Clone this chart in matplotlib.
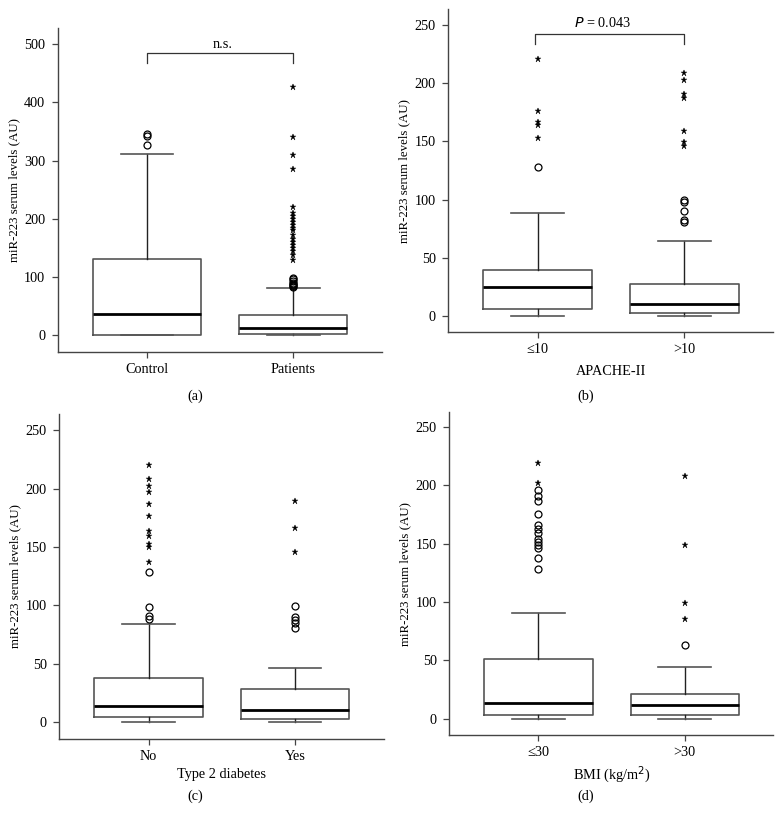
import numpy as np
import matplotlib
matplotlib.use("Agg")
import matplotlib.pyplot as plt

plt.rcParams['font.family'] = ['Liberation Serif', 'DejaVu Serif']
plt.rcParams['font.size'] = 10.3

# box statistics per group: q1, median, q3, lower whisker, upper whisker
a_groups = ['Control', 'Patients']
a_stats = [(0, 36.7, 131.7, 0, 311), (2.3, 12, 34.4, 0, 80.8)]
a_circles = [[346, 342, 327], [82, 84, 86, 88, 90, 93, 97, 99]]
a_stars = [[], [427, 341, 310, 286, 220, 210, 205, 200, 195, 190, 185, 180, 172,
                 165, 160, 155, 150, 145, 138, 130]]

b_groups = ['≤10', '>10']
b_stats = [(6, 24.9, 39.5, 0, 89), (2.6, 10.3, 27.7, 0, 65)]
b_circles = [[128.5], [100, 98, 90.5, 83, 81]]
b_stars = [[220.5, 176.5, 167, 164.2, 152.7], [208.6, 202.8, 190.5, 187, 159, 149.5, 146.5]]

c_groups = ['No', 'Yes']
c_stats = [(4, 14, 37.7, 0, 84), (2.3, 10.3, 28.3, 0, 46.6)]
c_circles = [[128.7, 98.8, 90.6, 88], [99.5, 90.3, 87.4, 84.8, 80.7]]
c_stars = [[220, 208, 202.7, 196.9, 186.5, 176.5, 163.5, 159.2, 152.6, 149.6, 137.2],
           [189.7, 166.3, 145.7]]

d_groups = ['≤30', '>30']
d_stats = [(3.1, 13.1, 51.4, 0, 90.9), (3.1, 11.4, 21.1, 0, 44.3)]
d_circles = [[196, 191, 186.4, 175.5, 165.8, 162.6, 159, 154.3, 151.7, 148.4, 146,
              137.3, 128.6], [63.4]]
d_stars = [[219.4, 202.3], [207.7, 148.6, 99.4, 85.4]]

W, H = 782, 815
fig = plt.figure(figsize=(W / 100, H / 100), dpi=100)


def px_axes(l, t, r, b):
    return fig.add_axes([l / W, 1 - b / H, (r - l) / W, (b - t) / H])


def draw_panel(ax, stats, circles, stars, groups, ylim, yticks):
    bxp_stats = []
    for (q1, med, q3, lo, hi) in stats:
        bxp_stats.append(dict(q1=q1, med=med, q3=q3, whislo=lo, whishi=hi, fliers=[]))
    ax.bxp(bxp_stats, positions=[1, 2], widths=0.74, showfliers=False,
           boxprops=dict(color='#555555', linewidth=1.2),
           medianprops=dict(color='black', linewidth=2.0),
           whiskerprops=dict(color='#222222', linewidth=1.0),
           capprops=dict(color='#555555', linewidth=1.2), capwidths=0.36)
    for i in range(2):
        if circles[i]:
            ax.plot([i + 1] * len(circles[i]), circles[i], 'o', ms=5, mfc='none',
                    mec='black', mew=0.9, ls='none')
        if stars[i]:
            ax.plot([i + 1] * len(stars[i]), stars[i], '*', ms=4.5, color='black',
                    mew=0.3, ls='none')
    ax.set_xlim(0.39, 2.607)
    ax.set_ylim(*ylim)
    ax.set_yticks(yticks)
    ax.set_xticks([1, 2])
    ax.set_xticklabels(groups)
    for s in ['top', 'right']:
        ax.spines[s].set_visible(False)
    for s in ['left', 'bottom']:
        ax.spines[s].set_color('#444444')
        ax.spines[s].set_linewidth(1.0)
    ax.tick_params(axis='y', direction='out', length=4, width=0.9, color='#444444', pad=5)
    ax.tick_params(axis='x', direction='out', length=4, width=0.9, color='#444444', pad=4)
    ax.set_ylabel('miR-223 serum levels (AU)', fontsize=9.3, labelpad=3)


ax_a = px_axes(57.7, 28, 382, 352)
draw_panel(ax_a, a_stats, a_circles, a_stars, a_groups, (-29, 528), [0, 100, 200, 300, 400, 500])
ax_a.plot([1, 1, 2, 2], [467, 484.5, 484.5, 467], color='#333333', lw=0.9)
ax_a.text(1.52, 488, 'n.s.', ha='center', va='bottom')

ax_b = px_axes(448.3, 9.3, 773.3, 332.3)
draw_panel(ax_b, b_stats, b_circles, b_stars, b_groups, (-13.7, 263.4), [0, 50, 100, 150, 200, 250])
ax_b.plot([0.98, 0.98, 2, 2], [234, 242.3, 242.3, 234], color='#333333', lw=0.9)
ax_b.text(1.44, 246, '$P$ = 0.043', ha='center', va='bottom')
ax_b.set_xlabel('APACHE-II', labelpad=6)

ax_c = px_axes(59.3, 414, 384, 738.7)
draw_panel(ax_c, c_stats, c_circles, c_stars, c_groups, (-14.3, 264), [0, 50, 100, 150, 200, 250])
ax_c.set_xlabel('Type 2 diabetes', labelpad=4)

ax_d = px_axes(449.3, 411.7, 773.3, 735.3)
draw_panel(ax_d, d_stats, d_circles, d_stars, d_groups, (-14.3, 263), [0, 50, 100, 150, 200, 250])
ax_d.set_xlabel('BMI (kg/m$^2$)', labelpad=3)

for lab, x, y in [('(a)', 195, 396), ('(b)', 586, 396), ('(c)', 195, 796), ('(d)', 586, 796)]:
    fig.text(x / W, 1 - y / H, lab, ha='center', va='center')

fig.savefig('out.png', dpi=100)
